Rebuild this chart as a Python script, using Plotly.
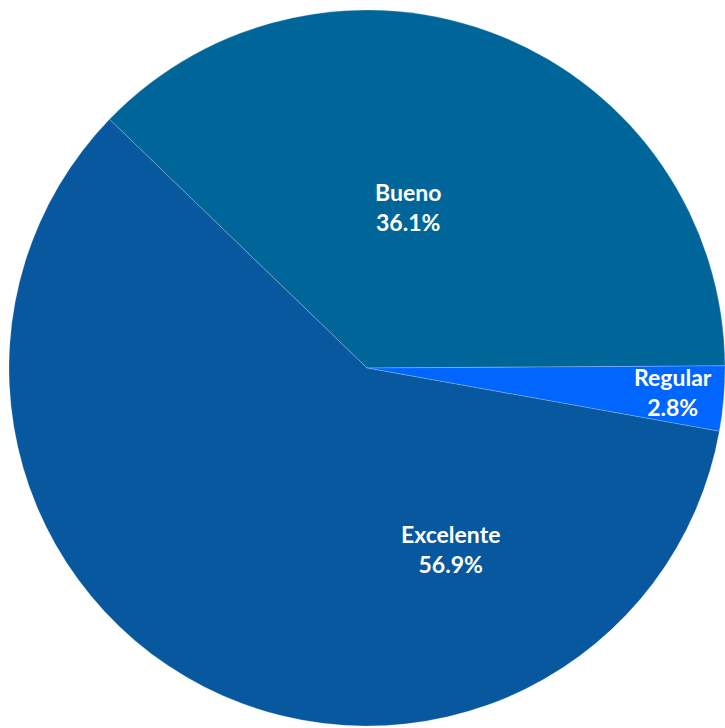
import plotly.graph_objects as go

# Rating distribution
categories = ["Bueno", "Regular", "Excelente"]
values = [36.1, 2.8, 56.9]
colors = ["#006699", "#0066ff", "#08589f"]

W, H = 725, 728

fig = go.Figure(
    go.Pie(
        labels=categories,
        values=values,
        sort=False,
        direction="clockwise",
        rotation=314,
        marker=dict(colors=colors, line=dict(color="rgba(255,255,255,0.35)", width=0.6)),
        textinfo="none",
        hoverinfo="label+value",
        domain=dict(x=[0.0124, 1.0], y=[0.0, 0.989]),
        showlegend=False,
    )
)

# Data labels placed in pixel space, converted to paper coordinates
label_px = {"Bueno": (408, 207), "Regular": (673, 392), "Excelente": (450, 549)}
for cat, val in zip(categories, values):
    px, py = label_px[cat]
    fig.add_annotation(
        x=px / W,
        y=1 - py / H,
        xref="paper",
        yref="paper",
        xanchor="center",
        yanchor="middle",
        text=f"<b>{cat}</b><br><b>{val:.1f}%</b>",
        showarrow=False,
        align="center",
        font=dict(family="Lato, Open Sans, sans-serif", size=23, color="white"),
    )

fig.update_layout(
    width=W,
    height=H,
    margin=dict(l=0, r=0, t=0, b=0),
    paper_bgcolor="white",
    plot_bgcolor="white",
)

fig.write_html("out.html")
